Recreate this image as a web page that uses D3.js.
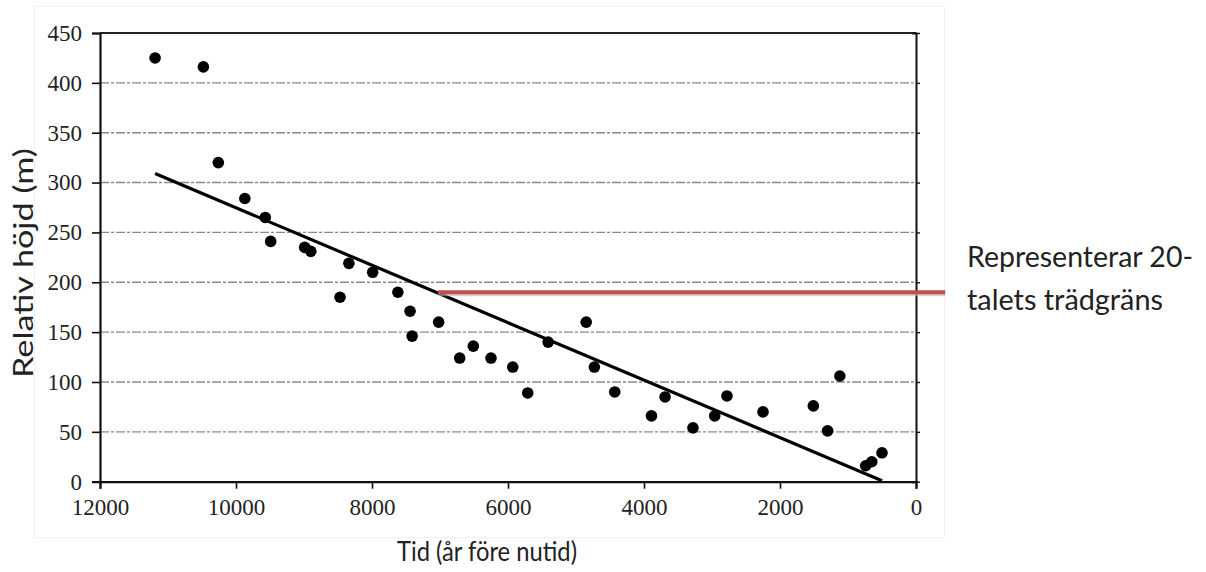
<!DOCTYPE html>
<html>
<head>
<meta charset="utf-8">
<script src="https://cdn.jsdelivr.net/npm/d3@7.7.0/dist/d3.min.js"></script>
<style>
  body { margin: 0; background: #fff; }
</style>
</head>
<body>
<div id="chart"></div>
<script>
// data
const ageYears = [11190, 10480, 10260, 9870, 9570, 9490, 8990, 8900, 8470, 8340,
  7990, 7620, 7440, 7410, 7020, 6710, 6510, 6250, 5930, 5710, 5410, 4850, 4730,
  4430, 3890, 3690, 3280, 2960, 2780, 2250, 1510, 1300, 1120, 740, 650, 500];
const heightM = [425, 416, 320, 284, 265, 241, 235, 231, 185, 219,
  210, 190, 171, 146, 160, 124, 136, 124, 115, 89, 140, 160, 115,
  90, 66, 85, 54, 66, 86, 70, 76, 51, 106, 16, 20, 29];
const xTicks = [12000, 10000, 8000, 6000, 4000, 2000, 0];
const yTicks = [0, 50, 100, 150, 200, 250, 300, 350, 400, 450];
// regression line end points
const trendAge = [11190, 500];
const trendHeight = [309, 1];
// 20th century tree line (red marker)
const treeLineAge = [7030, -430];
const treeLineHeight = 190;
const annotation = ["Representerar 20-", "talets trädgräns"];

const width = 1206;
const height = 572;

const svg = d3.select("#chart")
  .append("svg")
  .attr("width", width)
  .attr("height", height);

// faint frame of the scanned picture
svg.append("rect")
  .attr("x", 34.5).attr("y", 6.5)
  .attr("width", 910).attr("height", 531)
  .attr("fill", "none")
  .attr("stroke", "#f1f1f1");

// scales
const xScale = d3.scaleLinear().domain([12000, 0]).range([100, 916]);
const yScale = d3.scaleLinear().domain([0, 450]).range([481.7, 33]);

// gridlines
svg.append("g")
  .selectAll("line")
  .data(yTicks.filter(d => d > 0))
  .enter()
  .append("line")
  .attr("x1", xScale(12000)).attr("x2", xScale(0))
  .attr("y1", d => yScale(d)).attr("y2", d => yScale(d))
  .attr("stroke", d => d === 450 ? "#222" : "#8a8a8a")
  .attr("stroke-width", d => d === 450 ? 2 : 1.4)
  .attr("stroke-dasharray", d => d === 450 ? null : "9,2,3,2");

// x-axis
const xAxis = svg.append("g")
  .attr("transform", `translate(0, ${yScale(0)})`)
  .call(d3.axisBottom(xScale).tickValues(xTicks).tickSize(7).tickPadding(10).tickFormat(d3.format("d")));
xAxis.select(".domain").attr("stroke", "#111").attr("stroke-width", 2.2);
xAxis.selectAll(".tick line").attr("stroke", "#111").attr("stroke-width", 1.6);
xAxis.selectAll("text")
  .style("font-family", "'Liberation Serif', 'Times New Roman', serif")
  .style("font-size", "23px")
  .attr("fill", "#222");

// y-axis
const yAxis = svg.append("g")
  .attr("transform", `translate(${xScale(12000)}, 0)`)
  .call(d3.axisLeft(yScale).tickValues(yTicks).tickSize(8).tickPadding(10));
yAxis.select(".domain").attr("stroke", "#111").attr("stroke-width", 2.2);
yAxis.selectAll(".tick line").attr("stroke", "#111").attr("stroke-width", 1.6);
yAxis.selectAll("text")
  .style("font-family", "'Liberation Serif', 'Times New Roman', serif")
  .style("font-size", "23px")
  .attr("fill", "#222");

// right border with small inward ticks
const rAxis = svg.append("g")
  .attr("transform", `translate(${xScale(0)}, 0)`)
  .call(d3.axisLeft(yScale).tickValues(yTicks).tickSize(4).tickFormat(""));
rAxis.select(".domain").attr("stroke", "#111").attr("stroke-width", 2);
rAxis.selectAll(".tick line").attr("stroke", "#111").attr("stroke-width", 1.4).attr("transform", "translate(4,0)");

// regression line
svg.append("line")
  .attr("x1", xScale(trendAge[0])).attr("y1", yScale(trendHeight[0]))
  .attr("x2", xScale(trendAge[1])).attr("y2", yScale(trendHeight[1]))
  .attr("stroke", "#000")
  .attr("stroke-width", 3.2);

// data points
svg.append("g")
  .selectAll("circle")
  .data(ageYears)
  .enter()
  .append("circle")
  .attr("cx", d => xScale(d))
  .attr("cy", (d, i) => yScale(heightM[i]))
  .attr("r", 5.8)
  .attr("fill", "#000");

// tree line marker with soft shadow
svg.append("line")
  .attr("x1", xScale(treeLineAge[0])).attr("x2", xScale(treeLineAge[1]))
  .attr("y1", yScale(treeLineHeight) + 2.5).attr("y2", yScale(treeLineHeight) + 2.5)
  .attr("stroke", "#b9b9b9")
  .attr("stroke-width", 3)
  .attr("opacity", 0.6);
svg.append("line")
  .attr("x1", xScale(treeLineAge[0])).attr("x2", xScale(treeLineAge[1]))
  .attr("y1", yScale(treeLineHeight)).attr("y2", yScale(treeLineHeight))
  .attr("stroke", "#c0504d")
  .attr("stroke-width", 4);

// axis titles
svg.append("text")
  .attr("x", 487).attr("y", 561)
  .attr("text-anchor", "middle")
  .style("font-family", "Lato, 'Open Sans', sans-serif")
  .style("font-size", "27px")
  .attr("textLength", 180)
  .attr("lengthAdjust", "spacingAndGlyphs")
  .attr("fill", "#222")
  .text("Tid (år före nutid)");

svg.append("text")
  .attr("transform", "translate(33, 263) rotate(-90)")
  .attr("text-anchor", "middle")
  .style("font-family", "Lato, 'Open Sans', sans-serif")
  .style("font-size", "27px")
  .attr("textLength", 230)
  .attr("lengthAdjust", "spacingAndGlyphs")
  .attr("fill", "#222")
  .text("Relativ höjd (m)");

// annotation
svg.append("g")
  .selectAll("text")
  .data(annotation)
  .enter()
  .append("text")
  .attr("x", 967)
  .attr("y", (d, i) => 267 + i * 43)
  .style("font-family", "Lato, 'Open Sans', sans-serif")
  .style("font-size", "29px")
  .attr("textLength", (d, i) => i === 0 ? 226 : 196)
  .attr("lengthAdjust", "spacingAndGlyphs")
  .attr("fill", "#222")
  .text(d => d);
</script>
</body>
</html>
